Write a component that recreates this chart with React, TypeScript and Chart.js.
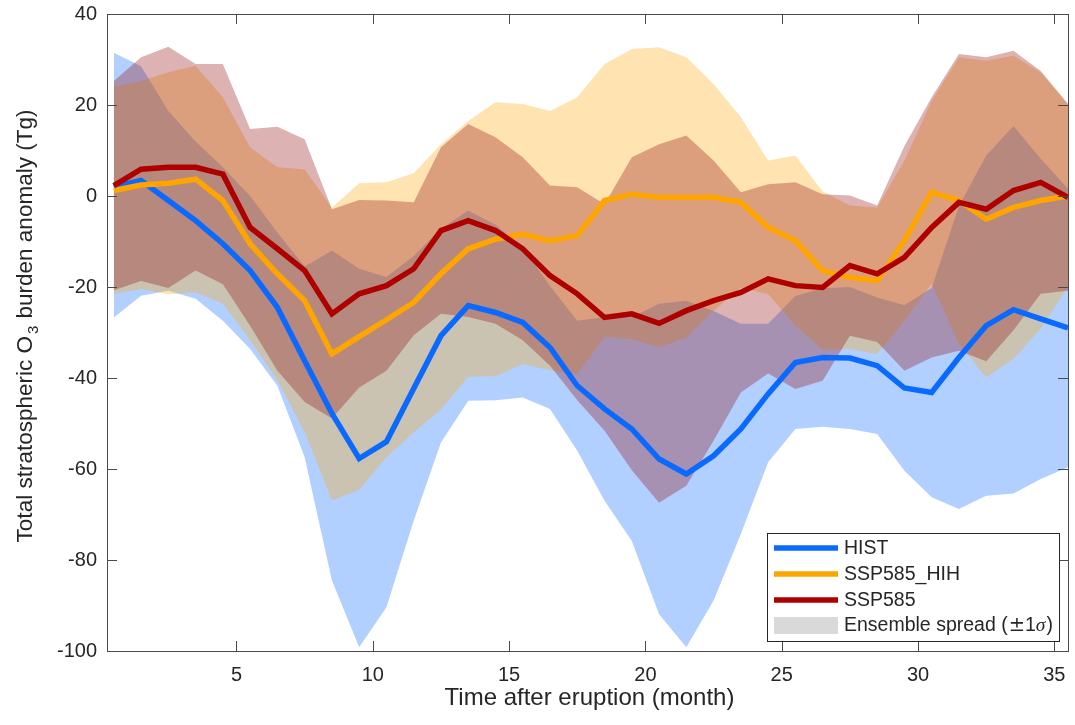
import { useEffect, useRef } from 'react';
import { Chart, registerables } from 'chart.js';

Chart.register(...registerables);

// Months after the eruption (monthly means, plotted at mid-month)
const months = [
  0.5, 1.5, 2.5, 3.5, 4.5, 5.5, 6.5, 7.5, 8.5, 9.5, 10.5, 11.5,
  12.5, 13.5, 14.5, 15.5, 16.5, 17.5, 18.5, 19.5, 20.5, 21.5, 22.5, 23.5,
  24.5, 25.5, 26.5, 27.5, 28.5, 29.5, 30.5, 31.5, 32.5, 33.5, 34.5, 35.5,
];

const xTickValues = [5, 10, 15, 20, 25, 30, 35];
const yTickValues = [-100, -80, -60, -40, -20, 0, 20, 40];

// Ensemble-mean O3 burden anomaly (Tg)
const histMean = [
  2, 3.4, -1, -5.4, -10.5, -16.4, -24.5, -36.2, -47.8, -57.7, -54, -42.3,
  -30.7, -24.1, -25.6, -27.8, -33.3, -41.7, -46.8, -51.2, -57.8, -61.1, -57.1, -51.2,
  -43.5, -36.6, -35.5, -35.6, -37.3, -42.2, -43.2, -35.5, -28.5, -25, -27, -29,
];
const hihMean = [
  1.2, 2.4, 2.8, 3.7, -1, -10.5, -17.1, -23, -34.7, -30.9, -27.2, -23.4,
  -17.1, -11.6, -9.5, -8.4, -9.8, -8.7, -1, 0.4, -0.3, -0.3, -0.3, -1.4,
  -6.9, -9.8, -16.4, -17.9, -18.6, -9.8, 0.8, -1, -5.1, -2.5, -1, 0,
];
const sspMean = [
  2.3, 5.9, 6.3, 6.3, 4.8, -6.9, -11.6, -16.4, -25.9, -21.5, -19.7, -16,
  -7.6, -5.4, -7.6, -11.6, -17.5, -21.5, -26.7, -25.9, -28, -25.2, -23, -21.2,
  -18.2, -19.7, -20.1, -15.3, -17.1, -13.5, -6.9, -1.4, -2.9, 1.2, 3, -0.3,
];

// Ensemble spread (mean +/- 1 sigma)
const histUpper = [
  31.5, 28.5, 18.7, 12, 6.3, 0, -8, -15.5, -12, -16, -17.8, -13.2,
  -7.2, -3.2, -6.3, -11.3, -19.8, -27.4, -26.6, -26.6, -23.7, -23, -25.3, -28.1,
  -28.1, -22, -20.3, -20, -22.3, -24, -20.2, -2.2, 8.9, 15.4, 8.2, 1.6,
];
const histLower = [
  -26.7, -21.9, -20.8, -22.6, -27.4, -33.6, -41.7, -57.4, -84.5, -99.2, -90.4, -71.4,
  -54.2, -45, -44.9, -44.3, -46.8, -56, -67, -75.8, -91.9, -99.2, -88.9, -74.3,
  -58.5, -51.2, -50.7, -51.2, -52.3, -60.4, -66.2, -68.8, -65.9, -65.4, -62.2, -59.6,
];
const hihUpper = [
  24, 25.3, 27.2, 28.6, 21.7, 10.7, 6.3, 5.9, -2.5, 2.8, 3, 5,
  11.4, 16.5, 20.6, 20.2, 18.7, 21.7, 29, 32.3, 32.7, 30.5, 24.6, 17.3,
  7.8, 8.9, 1, -2.1, -2.5, 7.8, 20.9, 30.5, 29.7, 30.8, 27.2, 20.2,
];
const hihLower = [
  -21.5, -20.5, -21.6, -21.2, -23.7, -31.7, -40.5, -51.9, -66.9, -64.6, -57.4, -52,
  -47, -39.7, -39.6, -37, -38.3, -39.1, -31, -31.5, -33.3, -31.1, -25.2, -20.1,
  -21.6, -28.5, -33.8, -33.7, -34.7, -27.4, -19.3, -32.5, -39.9, -35.8, -29.2, -20,
];
const sspUpper = [
  25.3, 30.5, 32.8, 29, 29, 14.7, 15.2, 12.5, -2.9, -0.9, -1, -1.4,
  10.7, 15.8, 12.9, 8.5, 2.3, 1.9, -1.8, 8.5, 11.4, 13.3, 7.8, 0.8,
  2.6, 3, 0.4, 0.1, -2.1, 11, 21.7, 31.2, 30.5, 31.9, 27.5, 20.2,
];
const sspLower = [
  -20.7, -18.7, -20.2, -16.4, -19.4, -28.5, -38.4, -45.3, -48.9, -42.1, -38.4, -30.6,
  -25.9, -26.6, -28.1, -31.7, -37.3, -44.9, -51.6, -60.3, -67.4, -63.7, -53.8, -43.2,
  -39, -42.4, -40.6, -30.7, -32.1, -38.4, -35.5, -34, -36.3, -29.5, -21.5, -20.8,
];

const seriesLabels = ['HIST', 'SSP585_HIH', 'SSP585'];
const spreadLabel = 'Ensemble spread (';
const xTitle = 'Time after eruption (month)';
const yTitleParts = ['Total stratospheric O', '3', ' burden anomaly (Tg)'];

const HIST_COLOR = 'rgb(10,105,255)';
const HIH_COLOR = 'rgb(255,165,0)';
const SSP_COLOR = 'rgb(175,0,0)';
const HIST_BAND = 'rgba(0,100,255,0.3)';
const HIH_BAND = 'rgba(255,165,0,0.3)';
const SSP_BAND = 'rgba(140,0,0,0.3)';
const SPREAD_SWATCH = '#d9d9d9';
const TEXT_COLOR = '#262626';
const AXIS_COLOR = '#4a4a4a';
const FONT_FAMILY = '"Liberation Sans", Arial, Helvetica, sans-serif';

const toPoints = (ys: number[]) => months.map((m, i) => ({ x: m, y: ys[i] }));

const bandEdge = (ys: number[], order: number) => ({
  data: toPoints(ys),
  borderColor: 'rgba(0,0,0,0)',
  borderWidth: 0,
  pointRadius: 0,
  fill: false,
  order,
  clip: 0,
});

const bandTop = (ys: number[], color: string, order: number) => ({
  data: toPoints(ys),
  borderColor: 'rgba(0,0,0,0)',
  borderWidth: 0,
  pointRadius: 0,
  backgroundColor: color,
  fill: '-1',
  order,
  clip: 0,
});

const meanLine = (label: string, ys: number[], color: string, order: number) => ({
  label,
  data: toPoints(ys),
  borderColor: color,
  borderWidth: 5.5,
  borderJoinStyle: 'miter',
  pointRadius: 0,
  fill: false,
  tension: 0,
  order,
  clip: 0,
});

const framePlugin = {
  id: 'frameAndLegend',
  afterDraw(chart: any) {
    const { ctx, chartArea: a, scales } = chart;
    ctx.save();

    // Axes box with inward ticks on all four sides
    ctx.strokeStyle = AXIS_COLOR;
    ctx.lineWidth = 1;
    ctx.beginPath();
    for (const v of xTickValues) {
      const px = Math.round(scales.x.getPixelForValue(v)) + 0.5;
      ctx.moveTo(px, a.bottom);
      ctx.lineTo(px, a.bottom - 10);
      ctx.moveTo(px, a.top);
      ctx.lineTo(px, a.top + 10);
    }
    for (const v of yTickValues) {
      const py = Math.round(scales.y.getPixelForValue(v)) + 0.5;
      ctx.moveTo(a.left, py);
      ctx.lineTo(a.left + 10, py);
      ctx.moveTo(a.right, py);
      ctx.lineTo(a.right - 10, py);
    }
    ctx.stroke();
    ctx.strokeRect(a.left + 0.5, a.top + 0.5, a.right - a.left, a.bottom - a.top);

    // Axis titles
    ctx.fillStyle = TEXT_COLOR;
    ctx.font = `24px ${FONT_FAMILY}`;
    ctx.textAlign = 'center';
    ctx.textBaseline = 'alphabetic';
    ctx.fillText(xTitle, (a.left + a.right) / 2 + 2, 705);

    ctx.save();
    ctx.translate(32, 326);
    ctx.rotate(-Math.PI / 2);
    const mainFont = `22.5px ${FONT_FAMILY}`;
    const subFont = `15px ${FONT_FAMILY}`;
    ctx.font = mainFont;
    const w0 = ctx.measureText(yTitleParts[0]).width;
    const w2 = ctx.measureText(yTitleParts[2]).width;
    ctx.font = subFont;
    const w1 = ctx.measureText(yTitleParts[1]).width + 3;
    const total = w0 + w1 + w2;
    let cx = -total / 2;
    ctx.textAlign = 'left';
    ctx.font = mainFont;
    ctx.fillText(yTitleParts[0], cx, 0);
    cx += w0 + 2;
    ctx.font = subFont;
    ctx.fillText(yTitleParts[1], cx, 6);
    cx += w1 - 2;
    ctx.font = mainFont;
    ctx.fillText(yTitleParts[2], cx, 0);
    ctx.restore();

    // Legend
    const box = { left: 767, top: 533, right: 1059, bottom: 641 };
    ctx.fillStyle = '#ffffff';
    ctx.fillRect(box.left, box.top, box.right - box.left, box.bottom - box.top);
    ctx.strokeStyle = TEXT_COLOR;
    ctx.lineWidth = 1;
    ctx.strokeRect(box.left + 0.5, box.top + 0.5, box.right - box.left, box.bottom - box.top);

    const rowY = [548, 574, 600, 625];
    const colors = [HIST_COLOR, HIH_COLOR, SSP_COLOR];
    ctx.lineWidth = 5.5;
    ctx.lineCap = 'butt';
    colors.forEach((c, i) => {
      ctx.strokeStyle = c;
      ctx.beginPath();
      ctx.moveTo(774, rowY[i]);
      ctx.lineTo(838, rowY[i]);
      ctx.stroke();
    });
    ctx.fillStyle = SPREAD_SWATCH;
    ctx.fillRect(774, 617, 64, 17);

    ctx.fillStyle = TEXT_COLOR;
    ctx.textAlign = 'left';
    ctx.textBaseline = 'middle';
    const legendFont = `19.5px ${FONT_FAMILY}`;
    ctx.font = legendFont;
    seriesLabels.forEach((t, i) => ctx.fillText(t, 844, rowY[i] + 1));
    let tx = 844;
    const ry = rowY[3] + 1;
    ctx.fillText(spreadLabel, tx, ry);
    tx += ctx.measureText(spreadLabel).width;
    ctx.font = `19.5px "DejaVu Serif", "Liberation Serif", serif`;
    ctx.fillText('\u00b1', tx + 1, ry);
    tx += ctx.measureText('\u00b1').width + 1;
    ctx.font = legendFont;
    ctx.fillText('1', tx, ry);
    tx += ctx.measureText('1').width;
    ctx.font = `italic 19.5px "Liberation Serif", "DejaVu Serif", serif`;
    ctx.fillText('\u03c3', tx, ry);
    tx += ctx.measureText('\u03c3').width;
    ctx.font = legendFont;
    ctx.fillText(')', tx + 1, ry);

    ctx.restore();
  },
};

export default function App() {
  const canvasRef = useRef<HTMLCanvasElement | null>(null);

  useEffect(() => {
    const canvas = canvasRef.current;
    if (!canvas) return;
    const tickFont = { family: FONT_FAMILY, size: 20 };

    const chart = new Chart(canvas, {
      type: 'line',
      data: {
        datasets: [
          bandEdge(histLower, 5),
          bandTop(histUpper, HIST_BAND, 5),
          bandEdge(hihLower, 4),
          bandTop(hihUpper, HIH_BAND, 4),
          bandEdge(sspLower, 3),
          bandTop(sspUpper, SSP_BAND, 3),
          meanLine(seriesLabels[0], histMean, HIST_COLOR, 2),
          meanLine(seriesLabels[1], hihMean, HIH_COLOR, 1),
          meanLine(seriesLabels[2], sspMean, SSP_COLOR, 0),
        ] as any,
      },
      options: {
        responsive: false,
        animation: false,
        devicePixelRatio: 1,
        layout: { padding: { top: 14, right: 7, left: 0, bottom: 0 } },
        scales: {
          x: {
            type: 'linear',
            min: 0.25,
            max: 35.5,
            afterBuildTicks: (s: any) => {
              s.ticks = xTickValues.map((v) => ({ value: v }));
            },
            afterFit: (s: any) => {
              s.height = 74;
              s.paddingLeft = 0;
              s.paddingRight = 0;
            },
            grid: { display: false, drawTicks: false },
            border: { display: false },
            ticks: {
              font: tickFont,
              color: TEXT_COLOR,
              padding: 12,
              maxRotation: 0,
              autoSkip: false,
              callback: (v: any) => String(v),
            },
          },
          y: {
            type: 'linear',
            min: -100,
            max: 40,
            afterBuildTicks: (s: any) => {
              s.ticks = yTickValues.map((v) => ({ value: v }));
            },
            afterFit: (s: any) => {
              s.width = 107;
              s.paddingTop = 0;
              s.paddingBottom = 0;
            },
            grid: { display: false, drawTicks: false },
            border: { display: false },
            ticks: {
              font: tickFont,
              color: TEXT_COLOR,
              padding: 10,
              autoSkip: false,
              callback: (v: any) => String(v),
            },
          },
        },
        plugins: {
          legend: { display: false },
          tooltip: { enabled: false },
        },
      } as any,
      plugins: [framePlugin],
    });

    return () => chart.destroy();
  }, []);

  return (
    <div style={{ position: 'fixed', left: 0, top: 0, width: 1075, height: 725, background: '#fff' }}>
      <canvas ref={canvasRef} width={1075} height={725} style={{ display: 'block' }} />
    </div>
  );
}
